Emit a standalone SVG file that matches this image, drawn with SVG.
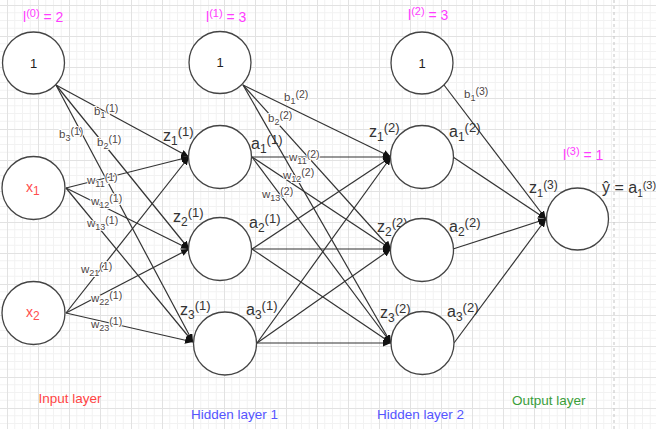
<svg xmlns="http://www.w3.org/2000/svg" width="656" height="429" viewBox="0 0 656 429">
<defs>
<pattern id="grid" x="7" y="5" width="31" height="31" patternUnits="userSpaceOnUse">
<path d="M7.75 0V31M15.5 0V31M23.25 0V31M0 7.75H31M0 15.5H31M0 23.25H31" stroke="#f2f2f2" stroke-width="1" fill="none"/>
<path d="M0.5 0V31M0 0.5H31" stroke="#e2e2e2" stroke-width="1" fill="none"/>
</pattern>
<marker id="arr" markerUnits="userSpaceOnUse" markerWidth="9" markerHeight="7" refX="8" refY="3.5" orient="auto">
<path d="M0,0 L8,3.5 L0,7 z" fill="#111"/>
</marker>
<style>
.node circle{fill:#fff;stroke:#444;stroke-width:1.3}
.edges line{stroke:#333;stroke-width:1.2;marker-end:url(#arr)}
text{font-family:"Liberation Sans",Arial,sans-serif}
.el{font-size:11.5px;fill:#4d4545;stroke:#fff;stroke-width:2;paint-order:stroke;stroke-linejoin:round}
.nl{font-size:16px;fill:#333}
.one{font-size:13px;fill:#222;text-anchor:middle}
.xin{font-size:14px;fill:#ff4d4d}
.mag{font-size:14px;fill:#ff3cff}
.layer{font-size:13.5px}
</style>
</defs>
<rect width="656" height="429" fill="#fff"/>
<rect width="656" height="429" fill="url(#grid)"/>
<line x1="614" y1="0" x2="614" y2="429" stroke="#c4c4c4" stroke-width="1" stroke-dasharray="3 3"/>

<g id="connectors" class="edges">
<line x1="56" y1="85" x2="189" y2="157"/>
<line x1="56" y1="85" x2="189" y2="249"/>
<line x1="56" y1="85" x2="193" y2="342"/>
<line x1="66" y1="188" x2="189" y2="157"/>
<line x1="66" y1="188" x2="189" y2="249"/>
<line x1="66" y1="188" x2="193" y2="342"/>
<line x1="66" y1="313" x2="189" y2="157"/>
<line x1="66" y1="313" x2="189" y2="249"/>
<line x1="66" y1="313" x2="193" y2="342"/>
<line x1="243" y1="85" x2="391" y2="157"/>
<line x1="243" y1="85" x2="391" y2="249"/>
<line x1="243" y1="85" x2="391" y2="343"/>
<line x1="252" y1="157" x2="391" y2="157"/>
<line x1="252" y1="157" x2="391" y2="249"/>
<line x1="252" y1="157" x2="391" y2="343"/>
<line x1="252" y1="249" x2="391" y2="157"/>
<line x1="252" y1="249" x2="391" y2="249"/>
<line x1="252" y1="249" x2="391" y2="343"/>
<line x1="257" y1="343" x2="391" y2="157"/>
<line x1="257" y1="343" x2="391" y2="249"/>
<line x1="257" y1="343" x2="391" y2="343"/>
<line x1="444" y1="85" x2="546" y2="219"/>
<line x1="453" y1="157" x2="546" y2="219"/>
<line x1="453" y1="249" x2="546" y2="219"/>
<line x1="454" y1="343" x2="546" y2="219"/>
</g>

<g id="edge-labels">
<text class="el" x="94" y="115">b<tspan font-size="9" dy="2.5">1</tspan><tspan font-size="10.5" dy="-6">(1)</tspan></text>
<text class="el" x="97" y="146">b<tspan font-size="9" dy="2.5">2</tspan><tspan font-size="10.5" dy="-6">(1)</tspan></text>
<text class="el" x="59" y="138">b<tspan font-size="9" dy="2.5">3</tspan><tspan font-size="10.5" dy="-6">(1)</tspan></text>
<text class="el" x="87" y="184">w<tspan font-size="9" dy="2.5">11</tspan><tspan font-size="10.5" dy="-6">(1)</tspan></text>
<text class="el" x="91" y="205">w<tspan font-size="9" dy="2.5">12</tspan><tspan font-size="10.5" dy="-6">(1)</tspan></text>
<text class="el" x="87" y="227">w<tspan font-size="9" dy="2.5">13</tspan><tspan font-size="10.5" dy="-6">(1)</tspan></text>
<text class="el" x="81" y="273">w<tspan font-size="9" dy="2.5">21</tspan><tspan font-size="10.5" dy="-6">(1)</tspan></text>
<text class="el" x="91" y="302">w<tspan font-size="9" dy="2.5">22</tspan><tspan font-size="10.5" dy="-6">(1)</tspan></text>
<text class="el" x="91" y="328">w<tspan font-size="9" dy="2.5">23</tspan><tspan font-size="10.5" dy="-6">(1)</tspan></text>
<text class="el" x="284" y="101">b<tspan font-size="9" dy="2.5">1</tspan><tspan font-size="10.5" dy="-6">(2)</tspan></text>
<text class="el" x="268" y="122">b<tspan font-size="9" dy="2.5">2</tspan><tspan font-size="10.5" dy="-6">(2)</tspan></text>
<text class="el" x="289" y="161" stroke="none">w<tspan font-size="9" dy="2.5">11</tspan><tspan font-size="10.5" dy="-6">(2)</tspan></text>
<text class="el" x="283" y="179">w<tspan font-size="9" dy="2.5">12</tspan><tspan font-size="10.5" dy="-6">(2)</tspan></text>
<text class="el" x="262" y="198">w<tspan font-size="9" dy="2.5">13</tspan><tspan font-size="10.5" dy="-6">(2)</tspan></text>
<text class="el" x="464" y="98">b<tspan font-size="9" dy="2.5">1</tspan><tspan font-size="10.5" dy="-6">(3)</tspan></text>
</g>

<g id="node-labels">
<text class="nl" x="163" y="141">z<tspan font-size="12" dy="4">1</tspan><tspan font-size="13" dy="-9">(1)</tspan></text>
<text class="nl" x="251" y="149">a<tspan font-size="12" dy="4">1</tspan><tspan font-size="13" dy="-9">(1)</tspan></text>
<text class="nl" x="173" y="222">z<tspan font-size="12" dy="4">2</tspan><tspan font-size="13" dy="-9">(1)</tspan></text>
<text class="nl" x="249" y="228">a<tspan font-size="12" dy="4">2</tspan><tspan font-size="13" dy="-9">(1)</tspan></text>
<text class="nl" x="180" y="315">z<tspan font-size="12" dy="4">3</tspan><tspan font-size="13" dy="-9">(1)</tspan></text>
<text class="nl" x="246" y="315">a<tspan font-size="12" dy="4">3</tspan><tspan font-size="13" dy="-9">(1)</tspan></text>
<text class="nl" x="369" y="137">z<tspan font-size="12" dy="4">1</tspan><tspan font-size="13" dy="-9">(2)</tspan></text>
<text class="nl" x="449" y="137">a<tspan font-size="12" dy="4">1</tspan><tspan font-size="13" dy="-9">(2)</tspan></text>
<text class="nl" x="377" y="232">z<tspan font-size="12" dy="4">2</tspan><tspan font-size="13" dy="-9">(2)</tspan></text>
<text class="nl" x="449" y="232">a<tspan font-size="12" dy="4">2</tspan><tspan font-size="13" dy="-9">(2)</tspan></text>
<text class="nl" x="380" y="318">z<tspan font-size="12" dy="4">3</tspan><tspan font-size="13" dy="-9">(2)</tspan></text>
<text class="nl" x="447" y="317">a<tspan font-size="12" dy="4">3</tspan><tspan font-size="13" dy="-9">(2)</tspan></text>
<text class="nl" x="529" y="193" font-size="14">z<tspan font-size="11" dy="3.5">1</tspan><tspan font-size="12" dy="-8">(3)</tspan></text>
<text class="nl" x="602" y="193" font-size="13">ŷ = a<tspan font-size="10" dy="3.5">1</tspan><tspan font-size="11" dy="-8">(3)</tspan></text>
</g>

<g id="layer-sizes">
<text class="mag" x="23" y="22">l<tspan font-size="11" dy="-5">(0)</tspan><tspan dy="5"> = 2</tspan></text>
<text class="mag" x="206" y="22">l<tspan font-size="11" dy="-5">(1)</tspan><tspan dy="5"> = 3</tspan></text>
<text class="mag" x="408" y="20">l<tspan font-size="11" dy="-5">(2)</tspan><tspan dy="5"> = 3</tspan></text>
<text class="mag" x="563" y="160">l<tspan font-size="11" dy="-5">(3)</tspan><tspan dy="5"> = 1</tspan></text>
</g>

<g id="in-bias" class="node"><circle cx="33.5" cy="63" r="31"/><text class="one" x="33.5" y="68">1</text></g>
<g id="x1" class="node"><circle cx="33.5" cy="188" r="31.5"/><text class="xin" x="26" y="192">x<tspan font-size="12" dy="3">1</tspan></text></g>
<g id="x2" class="node"><circle cx="33.5" cy="313" r="31.5"/><text class="xin" x="26" y="317">x<tspan font-size="12" dy="3">2</tspan></text></g>
<g id="h1-bias" class="node"><circle cx="220" cy="62.5" r="31"/><text class="one" x="220" y="67">1</text></g>
<g id="h1-1" class="node"><circle cx="220" cy="157" r="31.5"/></g>
<g id="h1-2" class="node"><circle cx="220" cy="249" r="31.5"/></g>
<g id="h1-3" class="node"><circle cx="225" cy="343.5" r="31.5"/></g>
<g id="h2-bias" class="node"><circle cx="422" cy="63" r="31"/><text class="one" x="422" y="68">1</text></g>
<g id="h2-1" class="node"><circle cx="422" cy="157" r="31.5"/></g>
<g id="h2-2" class="node"><circle cx="422" cy="250" r="31.5"/></g>
<g id="h2-3" class="node"><circle cx="422.5" cy="343" r="31.5"/></g>
<g id="out" class="node"><circle cx="577.5" cy="219" r="31"/></g>

<g id="layer-names">
<text class="layer" x="38.5" y="403" fill="#ff4444">Input layer</text>
<text class="layer" x="191" y="419" fill="#5555ff">Hidden layer 1</text>
<text class="layer" x="377" y="419" fill="#5555ff">Hidden layer 2</text>
<text class="layer" x="512" y="405" fill="#3a9e3a">Output layer</text>
</g>
</svg>
